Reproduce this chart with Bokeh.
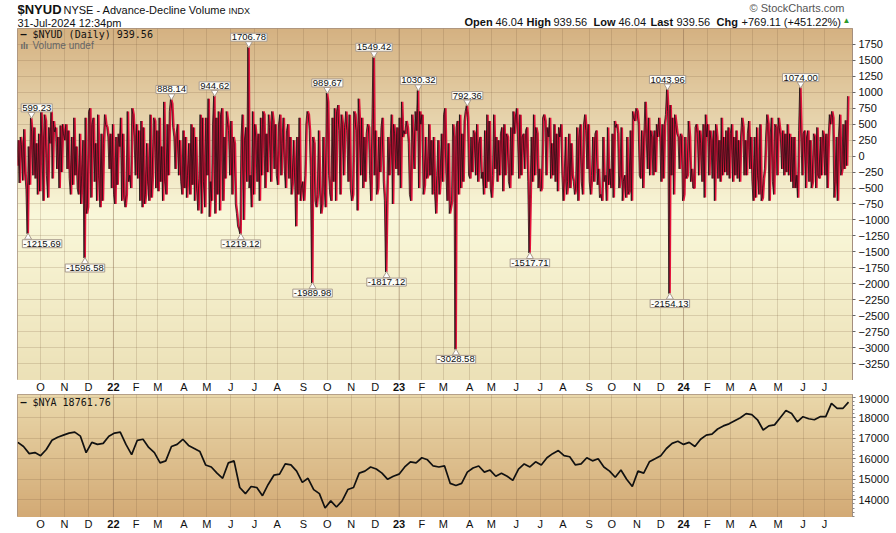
import numpy as np
import pandas as pd
from bokeh.plotting import figure
from bokeh.layouts import column
from bokeh.models import Range1d, FixedTicker, Label, Span
from bokeh.core.properties import value
from bokeh.embed import file_html
from bokeh.resources import INLINE

# ---------------- calendar (trading days) ----------------
nyse_holidays = ["2021-09-06", "2021-11-25", "2021-12-24",
                 "2022-01-17", "2022-02-21", "2022-04-15", "2022-05-30", "2022-06-20", "2022-07-04",
                 "2022-09-05", "2022-11-24", "2022-12-26",
                 "2023-01-02", "2023-01-16", "2023-02-20", "2023-04-07", "2023-05-29", "2023-06-19",
                 "2023-07-04", "2023-09-04", "2023-11-23", "2023-12-25",
                 "2024-01-01", "2024-01-15", "2024-02-19", "2024-03-29", "2024-05-27", "2024-06-19",
                 "2024-07-04"]
bdays = pd.bdate_range("2021-09-02", "2024-07-31")
trading_days = bdays[~bdays.isin(pd.to_datetime(nyse_holidays))]

# ---------------- $NYUD daily values ----------------
nyud_2021_09 = [-150, 250, -420, 300, 180, -380, 420, -260, -520, -1215.69, 150, -450, 599.23, 380, -300, 450, -350, 200, -600, 350]
nyud_2021_10 = [-550, 700, 300, -700, 650, 550, -300, -650, 450, 200, 720, -350, 550, 380, 450, -200, 300, -500, 480, -250, 500]
nyud_2021_11 = [350, 250, 500, -200, 400, -350, -600, 300, -450, 600, -300, 150, -500, -600, 350, -750, -300, 250, -1596.58, 600, -900]
nyud_2021_12 = [-800, 700, 750, -650, 500, 600, -400, 200, -700, 650, -300, -800, 350, -700, 200, 650, 500, 450, 300, -200, 350, -500]
nyud_2022_01 = [500, -600, -750, 300, -450, 350, 150, 600, -700, 350, -650, -800, -600, 700, -400, -300, -500, 750, 650, 300]
nyud_2022_02 = [-300, 500, -350, 400, -700, 550, -800, 450, -750, -600, 200, -400, -700, 650, -650, -300, 600, 550, -500]
nyud_2022_03 = [400, -550, 600, -400, 150, -700, 850, -400, -600, 500, -300, 700, 888.14, 820, 450, 300, -200, 350, 500, -300, 250, -400, -600]
nyud_2022_04 = [400, -500, 300, -650, -300, 200, -600, 500, -450, 450, -700, 300, -500, -850, -350, 650, -900, 600, -400, -800]
nyud_2022_05 = [600, -300, 900, -950, -400, -700, 500, 944.62, -900, 600, -600, 700, -850, 650, 750, -700, 300, -350, 700, 550, 400]
nyud_2022_06 = [-300, 550, -600, 300, 200, -750, -900, -1100, -1150, -1219.12, 300, 650, -1000, 250, 450, -400, 1706.78, -500, -300, -800, 700]
nyud_2022_07 = [-600, 500, 300, -400, 350, -700, 600, -300, 700, 650, -500, 350, -250, 650, 450, -400, 700, 550, -200, 500]
nyud_2022_08 = [-300, -450, 500, 650, -300, 200, 600, -200, -500, 400, 500, -350, 300, -600, -400, 250, -250, -1100, 300, -600, 600, -700, -500]
nyud_2022_09 = [-400, -700, -300, 500, 700, 650, 400, -300, -1989.98, 300, 200, -700, -800, -600, 400, -500, -900, -750, 300, -450, -800]
nyud_2022_10 = [989.67, 850, -300, -600, -700, 600, -400, 750, -700, 700, 800, 400, -600, 650, 500, -300, 450, 700, 400, -400, 650]
nyud_2022_11 = [-500, -700, -600, 700, 650, 400, -850, 900, 500, -300, 600, -500, 300, -400, 350, 500, 450, -300, -700, 500, 1549.42]
nyud_2022_12 = [-300, 400, -600, -500, 300, -250, 450, 600, -400, -700, -1817.12, -700, 300, -300, 200, 650, -750, 500, 350, -200, 450]
nyud_2023_01 = [-300, 600, -500, 850, 300, 400, 350, 550, 450, 200, -600, -700, 650, 300, -200, 700, 400, 1030.32, -500, 700]
nyud_2023_02 = [500, 650, -600, -450, 300, -350, -300, 500, -300, 250, -600, 300, -550, -900, -300, 250, -600, -300, 350]
nyud_2023_03 = [-400, 650, 750, -250, -700, 200, -900, -800, -700, 500, 300, -3028.58, 450, 550, -600, 650, -500, 350, -400, 550, 700, 792.36, 600]
nyud_2023_04 = [-300, -350, 300, -250, 400, 350, -300, 500, -400, 200, 300, -350, -250, -600, 400, -500, 650, -400, 550]
nyud_2023_05 = [-500, -650, -300, 650, -200, 300, -400, 250, -300, 350, 450, -550, 500, -300, 350, 300, -400, -500, 450, -300, 700, 350]
nyud_2023_06 = [600, 750, 300, -350, 650, -300, 300, 350, -200, 400, 450, -400, -1517.71, -600, 300, -400, 650, -300, 450, 350, -500]
nyud_2023_07 = [-200, -550, -500, 600, 650, 550, -300, 450, 300, 600, -350, 200, -300, 500, -400, 350, -550, 450, 300, 500]
nyud_2023_08 = [-300, -700, -350, 300, -600, -400, 350, -500, 200, -300, -400, -600, -500, 450, -700, 300, 500, -400, -600, 500, 650, 400, -200]
nyud_2023_09 = [500, -400, -600, -300, 300, -400, 350, 400, -450, -200, -650, -600, -700, 300, -400, -300, -700, 450, -450, -200]
nyud_2023_10 = [-500, 350, -650, 550, 450, 500, 350, -500, -300, 450, -700, -400, -300, -650, 300, -600, -550, 400, -700, 700, 600, 550]
nyud_2023_11 = [750, 700, 500, -300, -350, 400, -500, 300, 850, 350, -200, 600, -300, 400, 300, -300, 400, -250, 500, 300, 600]
nyud_2023_12 = [300, -400, 500, -350, 500, 650, 1043.96, 700, -2154.13, 800, -300, 600, -600, 650, 500, 350, 300, -200, 350, 300]
nyud_2024_01 = [-700, -600, 300, -350, -300, 550, 300, -400, -200, -500, -500, 450, 500, 350, -300, 400, 200, -400, 500, -650, 650]
nyud_2024_02 = [300, 500, -300, 400, 250, -350, 400, -700, 500, 300, -350, 250, -400, 600, -300, 300, -250, 400, -300, 450]
nyud_2024_03 = [-350, 350, 500, -400, 300, -300, 400, -350, 250, -400, 300, 600, 450, -300, 250, -300, 350, 550, -200, 300]
nyud_2024_04 = [-400, -700, 300, -650, 450, -300, -600, 500, -700, -650, -350, -200, 300, 650, 500, -700, 300, 600, -400, -600, 500, 450]
nyud_2024_05 = [-300, 600, 450, 300, -200, 400, -300, 350, -250, 500, -300, 350, -400, 300, -500, 300, -500, -300, -650, 400, 1074.00, 350]
nyud_2024_06 = [-300, 350, 400, -500, 300, 400, -400, 250, -500, -400, 350, 300, -500, 450, -300, -350, 300, -300, 400]
nyud_2024_07 = [300, -300, 350, -500, 300, 650, 500, 700, 600, -650, -400, 300, -700, 300, 650, -300, -200, 500, -200, 560, -150, 939.56]

nyud = (nyud_2021_09 + nyud_2021_10 + nyud_2021_11 + nyud_2021_12 +
        nyud_2022_01 + nyud_2022_02 + nyud_2022_03 + nyud_2022_04 + nyud_2022_05 + nyud_2022_06 +
        nyud_2022_07 + nyud_2022_08 + nyud_2022_09 + nyud_2022_10 + nyud_2022_11 + nyud_2022_12 +
        nyud_2023_01 + nyud_2023_02 + nyud_2023_03 + nyud_2023_04 + nyud_2023_05 + nyud_2023_06 +
        nyud_2023_07 + nyud_2023_08 + nyud_2023_09 + nyud_2023_10 + nyud_2023_11 + nyud_2023_12 +
        nyud_2024_01 + nyud_2024_02 + nyud_2024_03 + nyud_2024_04 + nyud_2024_05 + nyud_2024_06 +
        nyud_2024_07)

peak_labels = [599.23, 888.14, 944.62, 1706.78, 989.67, 1549.42, 1030.32, 792.36, 1043.96, 1074.00]
trough_labels = [-1215.69, -1596.58, -1219.12, -1989.98, -1817.12, -3028.58, -1517.71, -2154.13]

# ---------------- $NYA weekly closes ----------------
nya_weekly = [16800, 16600, 16250, 16300, 16150, 16450, 16900, 17050, 17150, 17250,
              17300, 17100, 16300, 16800, 16700, 16750, 17100, 17250, 17300, 16700,
              16200, 16900, 16950, 16550, 16300, 15800, 15900, 16600, 16700, 16950,
              16650, 16500, 16350, 15700, 15600, 15300, 15050, 15800, 15900, 14600,
              14300, 14650, 14600, 14200, 14750, 15200, 15250, 15750, 15700, 15400,
              14850, 15050, 14500, 14300, 13600, 13950, 13650, 13950, 14500, 14600,
              15300, 15400, 15600, 15500, 15300, 15000, 15150, 15250, 15600, 15850,
              15800, 16050, 15950, 15650, 15600, 15650, 14800, 14700, 14800, 15350,
              15550, 15650, 15350, 15450, 15150, 15300, 15150, 14950, 15500, 15750,
              15600, 15850, 15700, 16050, 16250, 16400, 16150, 16100, 15700, 15750,
              16050, 15900, 16000, 15600, 15400, 15100, 15450, 15000, 14650, 15400,
              15300, 15850, 16000, 16150, 16500, 16750, 16850, 16700, 16800, 16600,
              16950, 17150, 17200, 17450, 17600, 17700, 17850, 18000, 18200, 18150,
              17900, 17400, 17600, 17650, 18000, 18350, 18200, 17800, 18050, 17950,
              17900, 18050, 18050, 18700, 18450, 18450, 18761.76]
nya_step = 5  # one close per trading week

nyud_ticks = list(range(-3250, 1751, 250))
nya_ticks = list(range(14000, 19001, 1000))

# ---------------- positions ----------------
n = len(nyud)
dates = trading_days[:n]
xi = np.arange(n)
nya_x = np.arange(len(nya_weekly)) * nya_step

td = list(trading_days)
month_pos = [i for i in range(1, len(td)) if td[i].month != td[i - 1].month]
m_x, m_txt, y_x, y_txt = [], [], [], []
for i in month_pos:
    d = td[i]
    if d.month == 1:
        y_x.append(i)
        y_txt.append(f"{d.year % 100:02d}")
    else:
        m_x.append(i)
        m_txt.append("JFMAMJJASOND"[d.month - 1])

xr = Range1d(-0.3, 733.5)

FONT = "Liberation Sans"
MONO = "DejaVu Sans Mono"
GRID = "#7a5a3a"
W = 896
LEFT, RIGHT = 17, 44
px_per_x = (W - LEFT - RIGHT) / (xr.end - xr.start)


def gradient(stops, rows=400):
    img = np.zeros((rows, 2), dtype=np.uint32)
    view = img.view(dtype=np.uint8).reshape((rows, 2, 4))
    fr = np.linspace(0, 1, rows)
    for c in range(3):
        view[:, :, c] = np.interp(fr, [s[0] for s in stops], [s[1][c] for s in stops])[:, None]
    view[:, :, 3] = 255
    return img


def bare(height, xrange, yrange):
    p = figure(width=W, height=height, x_range=xrange, y_range=yrange,
               output_backend="svg", toolbar_location=None,
               x_axis_location=None, y_axis_location=None,
               min_border_left=LEFT, min_border_right=RIGHT, min_border_top=0, min_border_bottom=0)
    p.outline_line_color = None
    p.grid.visible = False
    p.border_fill_color = "white"
    p.background_fill_color = "white"
    return p


def panel(height, y0, y1, yticks, stops, minor=None):
    p = figure(width=W, height=height, x_range=xr, y_range=Range1d(y0, y1),
               output_backend="svg", toolbar_location=None, y_axis_location="right", x_axis_location=None,
               min_border_left=LEFT, min_border_right=RIGHT, min_border_top=0, min_border_bottom=0)
    p.outline_line_color = "#a48e7e"
    p.outline_line_width = 1
    p.border_fill_color = "white"
    p.image_rgba(image=[gradient(stops)], x=xr.start, y=y0, dw=xr.end - xr.start, dh=y1 - y0, level="image")
    p.yaxis.ticker = FixedTicker(ticks=yticks, minor_ticks=minor or [])
    p.yaxis.axis_line_color = "#a48e7e"
    p.yaxis.major_tick_out = 3
    p.yaxis.major_tick_in = 0
    p.yaxis.minor_tick_out = 2 if minor else 0
    p.yaxis.minor_tick_in = 0
    p.yaxis.major_tick_line_color = "#666666"
    p.yaxis.minor_tick_line_color = "#888888"
    p.yaxis.major_label_standoff = 3
    p.yaxis.major_label_text_font = FONT
    p.yaxis.major_label_text_font_size = "11px"
    p.yaxis.major_label_text_color = "#111111"
    p.xgrid.ticker = FixedTicker(ticks=month_pos)
    p.ygrid.ticker = FixedTicker(ticks=yticks)
    p.grid.grid_line_color = GRID
    p.grid.grid_line_alpha = 0.2
    for i in y_x:
        p.add_layout(Span(location=i, dimension="height", line_color="#8c6e52",
                          line_alpha=0.35, line_width=1, level="underlay"))
    return p


def month_strip(height, ytext):
    s = bare(height, xr, Range1d(height, 0))
    s.text(x=m_x, y=[ytext] * len(m_x), text=m_txt, text_font=value(FONT), text_font_size="11px",
           text_align="center", text_baseline="middle", text_color="#111111")
    s.text(x=y_x, y=[ytext] * len(y_x), text=y_txt, text_font=value(FONT), text_font_size="11px",
           text_font_style="bold", text_align="center", text_baseline="middle", text_color="#111111")
    return s


def frame_label(p, fb, x, y, text, size="10px", font=MONO, style="normal", color="#111111"):
    p.add_layout(Label(x=x - LEFT, y=fb - y, x_units="screen", y_units="screen", text=text,
                       text_font=font, text_font_size=size, text_font_style=style,
                       text_color=color, text_align="left", text_baseline="middle"))


# ---------------- header (frame aligned with panels: canvas x 17..852) ----------------
HDR_H = 28
hdr = bare(HDR_H, Range1d(LEFT, W - RIGHT), Range1d(HDR_H, 0))


def htext(x, y, t, size="11px", style="normal", color="#111111", align="left"):
    hdr.add_layout(Label(x=x, y=y, text=t, text_font=FONT, text_font_size=size, text_font_style=style,
                         text_color=color, text_align=align, text_baseline="middle"))


htext(17, 9, "$NYUD", size="13px", style="bold")
htext(63, 9, "NYSE - Advance-Decline Volume", size="11px")
htext(228, 10, "INDX", size="9px")
htext(17, 22, "31-Jul-2024 12:34pm", size="11px")
htext(844, 7, "\u00a9 StockCharts.com", size="11px", color="#555555", align="right")
for x, t, s in [(464, "Open", "bold"), (495, "46.04", "normal"), (526, "High", "bold"), (553, "939.56", "normal"),
                (593, "Low", "bold"), (618, "46.04", "normal"), (650, "Last", "bold"), (676, "939.56", "normal"),
                (716, "Chg", "bold"), (741, "+769.11 (+451.22%)", "normal")]:
    htext(x, 21, t, size="11px", style=s)
htext(846, 20, "\u25b2", size="8px", color="#2a9a2a", align="center")

# ---------------- top panel ----------------
TOP_H = 352
y0t, y1t = -3516, 2000
p1 = panel(TOP_H, y0t, y1t, nyud_ticks,
           [(0.0, (236, 225, 183)), (0.47, (250, 248, 218)), (1.0, (213, 178, 130))])
p1.line(xi, nyud, line_color="#e4123c", line_width=2)
p1.line(xi - 0.9, nyud, line_color="#111111", line_width=0.75)

units_per_px = (y1t - y0t) / TOP_H
box_col = "#a89a8c"


def callout(v, up):
    i = nyud.index(v)
    txt = f"{v:.2f}"
    half_w = 2.7 * len(txt) + 2
    shift = max(0.0, half_w + 1 - (i - xr.start) * px_per_x)
    sgn = 1 if up else -1
    p1.scatter([i], [v + sgn * 3.5 * units_per_px], marker="inverted_triangle" if up else "triangle", size=7,
               fill_color="white", line_color=box_col, line_width=1)
    p1.add_layout(Label(x=i, y=v, text=txt, text_font=FONT, text_font_size="9.5px",
                        text_align="center", text_baseline="bottom" if up else "top",
                        y_offset=6 * sgn, x_offset=shift,
                        background_fill_color="#fdfdf8", border_line_color=box_col,
                        padding=1, text_color="#111111"))


for v in peak_labels:
    callout(v, True)
for v in trough_labels:
    callout(v, False)

FB1 = HDR_H + TOP_H  # canvas y of top panel bottom
frame_label(p1, FB1, 20, 34, "\u2014", style="bold")
frame_label(p1, FB1, 32, 34, "$NYUD (Daily) 939.56")
frame_label(p1, FB1, 20, 45, "\u0131l\u0131", size="9px", font=FONT, style="bold", color="#666666")
frame_label(p1, FB1, 32, 45, "Volume undef", font=FONT, color="#666666")

strip1 = month_strip(14, 6)

# ---------------- bottom panel ----------------
BOT_H = 123
y0b, y1b = 13140, 19130
p2 = panel(BOT_H, y0b, y1b, nya_ticks,
           [(0.0, (211, 170, 117)), (1.0, (234, 216, 171))],
           minor=list(range(13200, 19001, 200)))
p2.line(nya_x, nya_weekly, line_color="#111111", line_width=1.7)
FB2 = HDR_H + TOP_H + 14 + BOT_H
frame_label(p2, FB2, 20, 402, "\u2014", style="bold")
frame_label(p2, FB2, 32, 402, "$NYA 18761.76")

strip2 = month_strip(16, 6)

layout = column(hdr, p1, strip1, p2, strip2, spacing=0)
open("out.html", "w").write(file_html(layout, INLINE))
